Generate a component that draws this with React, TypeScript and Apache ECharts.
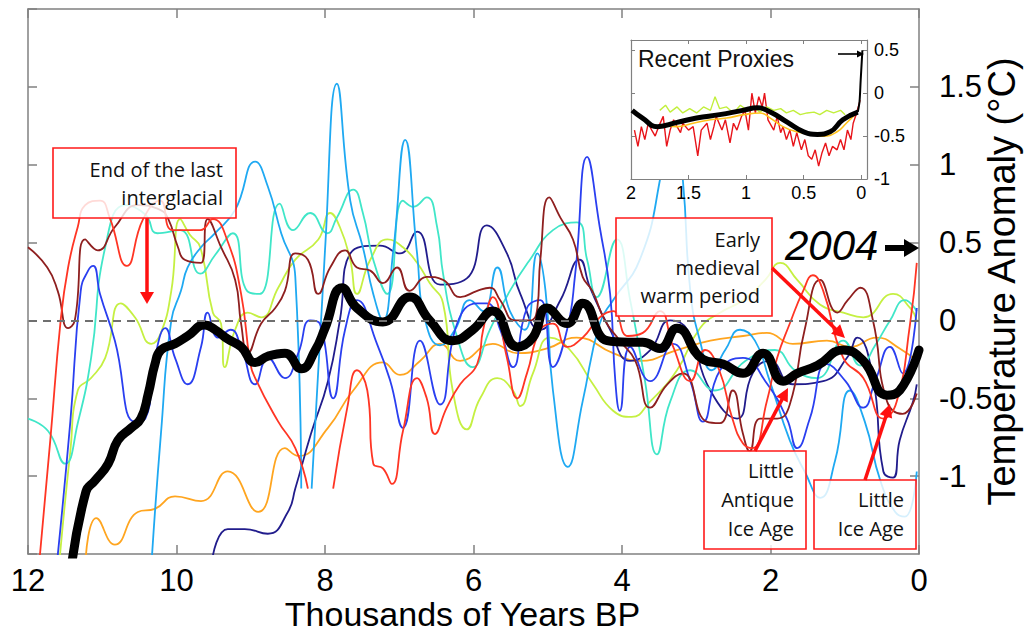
import React, { useEffect, useRef } from 'react';
import * as echarts from 'echarts';

type P = [number, number | string];

// ---------- main panel data (x = thousands of years BP, y = °C) ----------
const globalMean: P[] = [
  [11.42, -1.6], [11.22, -1.1], [11.1, -1.03], [10.92, -0.92], [10.79, -0.77], [10.61, -0.69], [10.48, -0.63],
  [10.38, -0.47], [10.29, -0.28], [10.21, -0.19], [10.02, -0.15], [9.85, -0.1], [9.62, -0.03], [9.48, -0.06],
  [9.31, -0.12], [9.13, -0.17], [8.94, -0.27], [8.77, -0.23], [8.54, -0.21], [8.32, -0.31], [8.13, -0.19],
  [8.0, -0.05], [7.77, 0.21], [7.57, 0.08], [7.22, -0.01], [6.86, 0.15], [6.59, 0.0], [6.28, -0.13], [6.01, -0.06],
  [5.74, 0.06], [5.41, -0.17], [5.2, -0.11], [5.01, 0.08], [4.74, -0.02], [4.53, 0.11], [4.2, -0.13], [3.92, -0.14],
  [3.72, -0.14], [3.49, -0.18], [3.26, -0.05], [2.91, -0.25], [2.64, -0.28], [2.37, -0.34], [2.1, -0.21],
  [1.83, -0.39], [1.64, -0.34], [1.37, -0.29], [1.02, -0.19], [0.75, -0.26], [0.43, -0.48], [0.26, -0.45], [0.0, -0.19],
];

const proxyRed: P[] = [
  [11.84, -1.51], [11.7, -0.77], [11.56, 0], [11.46, 0.34], [11.33, 0.6], [11.23, 0.74], [11.03, 0.77], [10.9, 0.66],
  [10.67, 0.35], [10.45, 0.65], [10.22, 0.77], [10.05, 0.58], [9.68, 0.58], [9.51, 0.65], [9.32, 0.52], [9.13, 0.17],
  [9.01, -0.26], [8.94, -0.37], [8.63, -0.65], [8.4, -0.82], [8.23, -1.08], [8.1, '-'],
  [7.89, -1.08], [7.7, -0.56], [7.57, -0.32], [7.43, -0.45], [7.35, -0.92], [7.22, -0.95], [7.1, -1.05], [6.95, -0.71],
  [6.76, -0.37], [6.63, -0.5], [6.52, -0.73], [6.36, -0.56], [6.18, -0.41], [5.95, -0.28], [5.87, -0.06], [5.74, 0.15],
  [5.55, -0.24], [5.41, -0.5], [5.28, -0.34], [5.1, -0.06], [4.93, -0.02], [4.74, -0.17], [4.53, -0.11], [4.3, 0.02],
  [4.12, 0.06], [3.92, -0.1], [3.72, -0.08], [3.49, 0.06], [3.31, -0.17], [3.08, -0.39], [2.88, -0.19], [2.69, -0.32],
  [2.52, -0.62], [2.37, -0.79], [2.24, -0.82], [2.05, -0.52], [1.91, -0.24], [1.74, -0.02], [1.56, 0.19], [1.43, 0.29],
  [1.29, 0.19], [1.02, -0.24], [0.75, -0.37], [0.48, -0.63], [0.3, -0.52], [0.12, -0.02], [0.03, 0.37],
];

const proxyBrown: P[] = [
  [12.0, 0.47], [11.74, 0.34], [11.6, 0.19], [11.46, -0.05], [11.37, 0.0], [11.23, 0.52], [11.06, 0.45], [10.83, 0.6],
  [10.52, 0.74], [10.22, 0.71], [10.11, 0.65], [9.98, 0.47], [9.89, 0.39], [9.67, 0.37], [9.58, 0.65], [9.4, 0.47],
  [9.21, 0.26], [9.13, -0.02], [9.04, -0.21], [8.86, -0.02], [8.67, 0.08], [8.54, 0.19], [8.4, 0.43], [8.23, 0.39],
  [8.09, 0.17], [7.93, 0.34], [7.73, 0.45], [7.57, 0.34], [7.39, 0.32], [7.22, 0.24], [7.03, 0.34], [6.86, 0.19],
  [6.63, 0.28], [6.41, 0.26], [6.18, 0.15], [5.95, 0.19], [5.78, 0.21], [5.64, 0.13], [5.44, 0.0], [5.24, 0.0],
  [5.14, 0.08], [5.1, 0.39], [4.98, 0.79], [4.83, 0.66], [4.66, 0.52], [4.53, 0.28], [4.4, 0.19], [4.23, 0.0],
  [4.03, -0.13], [3.82, -0.26], [3.62, -0.56], [3.39, -0.41], [3.18, -0.34], [2.86, -0.65], [2.68, -0.66], [2.51, -0.45],
  [2.37, -0.73], [2.28, -0.84], [2.14, -0.63], [1.91, -0.63], [1.74, -0.54], [1.54, -0.06], [1.33, 0.26], [1.1, 0.05],
  [0.96, 0.13], [0.79, 0.21], [0.62, 0.0], [0.43, -0.52], [0.22, -0.6], [0.03, -0.47],
];

const proxyBlue: P[] = [
  [11.6, -1.51], [11.43, -0.65], [11.29, 0.19], [11.19, 0.32], [11.12, 0.35], [11.03, 0.17], [10.83, -0.13],
  [10.56, -0.65], [10.42, -0.63], [10.29, -0.24], [10.15, -0.05], [10.02, -0.24], [9.85, -0.41], [9.67, -0.17],
  [9.58, 0.05], [9.44, -0.11], [9.27, -0.06], [9.13, -0.17], [8.94, -0.41], [8.77, -0.24], [8.54, -0.37], [8.36, -0.21],
  [8.2, 0.0], [8.07, -0.02], [7.89, -0.5], [7.73, -0.06], [7.57, 0.13], [7.3, -0.15], [7.12, -0.39], [6.95, -0.69],
  [6.72, -0.13], [6.45, -0.54], [6.22, -0.02], [5.95, 0.11], [5.82, 0.11], [5.64, -0.06], [5.47, -0.3], [5.28, 0.08],
  [5.1, 0.13], [4.93, -0.3], [4.74, -0.06], [4.63, 0.3], [4.47, 1.05], [4.3, 0.6], [4.16, 0.17], [4.09, -0.39],
  [4.03, -0.58], [3.89, -0.17], [3.62, -0.39], [3.31, -0.15], [3.08, -0.39], [2.91, -0.65], [2.68, -0.32],
  [2.37, -0.24], [2.07, -0.39], [1.78, -0.63], [1.64, -0.82], [1.47, -0.63], [1.24, -0.28], [0.99, -0.39],
  [0.75, -0.56], [0.59, -0.39], [0.39, -0.17], [0.22, -0.34], [0.03, 0.08],
];

const proxyNavy: P[] = [
  [9.51, -1.51], [9.31, -1.34], [9.08, -1.34], [8.77, -1.37], [8.5, -1.23], [8.4, -1.08], [8.19, -0.73], [7.96, -0.39],
  [7.8, 0.0], [7.66, 0.43], [7.26, 0.48], [6.99, 0.43], [6.76, 0.57], [6.45, 0.23], [6.09, 0.27], [5.82, 0.61],
  [5.55, 0.43], [5.37, 0.17], [5.1, -0.06], [4.83, 0.13], [4.57, 0.39], [4.43, 0.21], [4.16, -0.06], [3.89, -0.26],
  [3.62, -0.19], [3.35, 0.0], [3.12, -0.06], [2.81, -0.45], [2.45, -0.63], [2.24, -0.34], [2.01, -0.26], [1.7, -0.41],
  [1.29, -0.39], [0.97, -0.24], [0.83, -0.11], [0.62, -0.37], [0.48, -0.97], [0.35, -1.01], [0.26, -0.77],
  [0.08, -0.52], [0.03, -0.41],
];

const proxyCyan: P[] = [
  [12.0, -0.63], [11.73, -0.71], [11.5, -0.92], [11.33, -0.66], [11.15, -0.24], [10.96, 0.47], [10.69, 0.74],
  [10.42, 0.68], [10.26, 0.56], [9.95, 0.58], [9.68, 0.3], [9.48, 0.42], [9.24, 0.56], [9.05, 0.19], [8.88, 0.17],
  [8.61, 0.75], [8.43, 0.58], [8.2, 0.69], [7.97, 0.56], [7.84, 0.66], [7.62, 0.84], [7.49, 0.69], [7.35, 0.39],
  [7.16, 0.17], [6.95, 0.77], [6.81, 0.73], [6.63, 0.79], [6.49, 0.6], [6.41, 0.3], [6.25, -0.06], [6.01, -0.3],
  [5.78, -0.06], [5.51, 0.19], [5.24, 0.39], [4.93, 0.58], [4.61, 0.63], [4.47, 0.39], [4.34, 0.15], [4.07, 0.52],
  [3.89, 0.13], [3.69, -0.39], [3.53, -0.86], [3.35, -0.52], [3.08, -0.32], [2.75, -0.45], [2.34, -0.26],
  [1.94, -0.19], [1.67, -0.32], [1.37, -0.37], [1.02, -0.13], [0.79, -0.29], [0.59, -0.16], [0.39, 0.0],
  [0.19, 0.13], [0.03, 0.06],
];

const proxyYellowGreen: P[] = [
  [11.57, -1.51], [11.43, -0.84], [11.33, -0.45], [11.15, -0.37], [10.96, -0.24], [10.75, 0.11], [10.56, 0.02],
  [10.34, -0.15], [10.21, -0.08], [10.07, 0.19], [9.95, 0.65], [9.82, 0.55], [9.68, 0.47], [9.51, 0.05], [9.4, -0.02],
  [9.35, -0.3], [9.21, -0.06], [9.04, 0.05], [8.86, 0.02], [8.63, 0.21], [8.4, 0.39], [8.09, 0.52], [7.93, 0.69],
  [7.8, 0.6], [7.66, 0.39], [7.57, 0.17], [7.39, 0.39], [7.16, 0.52], [6.95, 0.47], [6.76, 0.37], [6.59, 0.24],
  [6.41, 0.11], [6.28, -0.45], [6.09, -0.7], [5.91, -0.5], [5.68, -0.37], [5.47, -0.45], [5.37, -0.55], [5.2, -0.34],
  [4.97, -0.11], [4.7, -0.19], [4.39, -0.41], [4.12, -0.58], [3.87, -0.62], [3.62, -0.52], [3.26, -0.32],
  [2.95, -0.05], [2.68, 0.05], [2.37, 0.13], [2.07, 0.26], [1.87, 0.37], [1.64, 0.26], [1.33, 0.1], [1.02, 0.05],
  [0.75, 0.02], [0.35, 0.17], [0.12, 0.08], [0.03, 0.0],
];

const proxyLightBlue: P[] = [
  [10.33, -1.51], [10.21, -0.73], [10.07, 0.0], [9.94, 0.19], [9.85, 0.34], [9.67, 0.47], [9.48, 0.56], [9.21, 0.71],
  [8.94, 1.02], [8.77, 0.86], [8.59, 0.56], [8.4, 0.28], [8.32, -1.08], [8.25, '-'],
  [8.18, -1.08], [8.0, 0.45], [7.84, 1.52], [7.66, 0.77], [7.49, 0.47], [7.35, 0.17], [7.22, 0.0], [7.08, 0.45],
  [6.92, 1.16], [6.76, 0.43], [6.65, 0.0], [6.45, -0.16], [6.25, -0.06], [6.05, 0.13], [5.87, 0.06], [5.68, 0.34],
  [5.51, 0.06], [5.31, -0.06], [5.14, 0.43], [5.03, 0.19], [4.93, -0.45], [4.73, -0.94], [4.53, -0.52], [4.3, -0.02],
  [4.12, 0.13], [3.76, 0.39], [3.49, 0.9], [3.33, 1.48], [3.18, 0.9], [3.08, 0.19], [2.95, -0.13], [2.79, -0.32],
  [2.61, -0.19], [2.41, -0.06], [2.21, -0.13], [2.01, -0.39], [1.74, -0.77], [1.54, -0.97], [1.33, -1.14],
  [1.13, -0.9], [0.93, -0.45], [0.73, -0.65], [0.52, -1.03], [0.32, -1.23], [0.19, -1.26], [0.03, -0.97],
];

const proxyOrange: P[] = [
  [11.22, -1.51], [11.08, -1.27], [10.83, -1.44], [10.52, -1.23], [10.29, -1.21], [10.02, -1.13], [9.67, -1.16],
  [9.31, -0.97], [8.9, -1.23], [8.54, -0.82], [8.36, -0.87], [7.96, -0.69], [7.62, -0.45], [7.22, -0.27],
  [6.99, -0.35], [6.72, -0.26], [6.45, -0.15], [6.18, -0.26], [5.74, -0.15], [5.41, -0.21], [5.01, -0.18],
  [4.61, -0.11], [4.12, -0.21], [3.76, -0.26], [3.26, -0.19], [2.81, -0.13], [2.37, -0.1], [2.05, -0.08],
  [1.7, -0.15], [1.24, -0.13], [0.93, -0.17], [0.57, -0.11], [0.26, -0.18], [0.03, -0.26],
];

// ---------- inset "Recent Proxies" data (x = thousands of years BP) ----------
const recentRed: P[] = [
  [1.97, -0.43], [1.94, -0.62], [1.91, -0.39], [1.88, -0.54], [1.85, -0.35], [1.82, -0.43], [1.79, -0.5], [1.76, -0.39],
  [1.72, -0.27], [1.69, -0.62], [1.66, -0.43], [1.63, -0.31], [1.6, -0.39], [1.57, -0.46], [1.55, -0.35], [1.5, -0.43],
  [1.46, -0.39], [1.42, -0.73], [1.39, -0.43], [1.34, -0.35], [1.31, -0.54], [1.28, -0.39], [1.26, -0.27],
  [1.21, -0.43], [1.18, -0.31], [1.14, -0.58], [1.11, -0.35], [1.08, -0.43], [1.04, -0.27], [1.01, -0.2],
  [0.98, -0.43], [0.95, 0.0], [0.92, -0.23], [0.89, -0.04], [0.86, -0.16], [0.84, 0.0], [0.81, -0.31], [0.76, -0.43],
  [0.73, -0.27], [0.7, -0.46], [0.68, -0.39], [0.65, -0.54], [0.62, -0.43], [0.59, -0.62], [0.56, -0.46],
  [0.52, -0.66], [0.49, -0.54], [0.46, -0.73], [0.43, -0.77], [0.4, -0.66], [0.37, -0.85], [0.34, -0.69],
  [0.31, -0.58], [0.28, -0.73], [0.25, -0.62], [0.21, -0.66], [0.18, -0.54], [0.15, -0.66], [0.12, -0.43],
  [0.09, -0.54], [0.07, -0.35], [0.04, -0.23], [0.01, -0.08],
];

const recentYellowGreen: P[] = [
  [1.75, -0.2], [1.7, -0.14], [1.66, -0.22], [1.6, -0.16], [1.55, -0.23], [1.49, -0.18], [1.43, -0.23], [1.37, -0.16],
  [1.31, -0.2], [1.27, -0.04], [1.23, -0.18], [1.17, -0.16], [1.11, -0.23], [1.05, -0.14], [0.99, -0.2], [0.94, -0.16],
  [0.88, -0.22], [0.82, -0.16], [0.76, -0.2], [0.7, -0.18], [0.65, -0.23], [0.59, -0.2], [0.53, -0.25], [0.47, -0.23],
  [0.41, -0.22], [0.36, -0.25], [0.3, -0.2], [0.24, -0.23], [0.18, -0.2], [0.14, -0.25],
];

const recentOrange: P[] = [
  [1.75, -0.37], [1.6, -0.39], [1.46, -0.35], [1.31, -0.31], [1.17, -0.29], [1.02, -0.25], [0.88, -0.23],
  [0.79, -0.29], [0.68, -0.39], [0.56, -0.45], [0.44, -0.48], [0.33, -0.5], [0.21, -0.45], [0.13, -0.35], [0.04, -0.23],
];

const recentMean: P[] = [
  [1.99, -0.2], [1.9, -0.29], [1.77, -0.39], [1.6, -0.34], [1.43, -0.29], [1.23, -0.25], [1.03, -0.2], [0.9, -0.17],
  [0.79, -0.22], [0.64, -0.34], [0.5, -0.45], [0.38, -0.48], [0.27, -0.45], [0.16, -0.31], [0.03, -0.22],
];

const instrumental: P[] = [[0.03, -0.22], [0.015, -0.1], [0.005, 0.15], [-0.01, 0.5]];

// ---------- tick values ----------
const insetXTicks = [0, 0.5, 1, 1.5, 2];
const insetYLabels = [-1, -0.5, 0, 0.5];
const insetYTicks = [-0.5, 0, 0.5];

// ---------- styles ----------
const SANS = '"Liberation Sans", Arial, sans-serif';
const NOTE = '"Open Sans", sans-serif';
const FRAME = '#808080';

function arrow(x1: number, y1: number, x2: number, y2: number, color: string, width: number, headLen: number, headHalf: number) {
  const dx = x2 - x1, dy = y2 - y1;
  const len = Math.hypot(dx, dy);
  const ux = dx / len, uy = dy / len;
  const bx = x2 - ux * headLen, by = y2 - uy * headLen;
  const px = -uy, py = ux;
  return [
    { type: 'line', z: 100, shape: { x1, y1, x2: bx + ux, y2: by + uy }, style: { stroke: color, lineWidth: width } },
    {
      type: 'polygon', z: 100,
      shape: { points: [[x2, y2], [bx + px * headHalf, by + py * headHalf], [bx - px * headHalf, by - py * headHalf]] },
      style: { fill: color },
    },
  ];
}

function note(x: number, y: number, text: string, opts: any = {}) {
  const align = opts.align || 'right';
  return {
    type: 'text', z: 101, x, y,
    style: {
      text, fill: opts.fill || '#111',
      fontSize: opts.fontSize || 20, fontFamily: opts.fontFamily || NOTE, fontStyle: opts.fontStyle || 'normal',
      align, textAlign: align, verticalAlign: 'middle', textVerticalAlign: 'middle',
    },
  };
}

function box(x: number, y: number, w: number, h: number) {
  return {
    type: 'rect', z: 99, shape: { x, y, width: w, height: h },
    style: { fill: 'rgba(255,255,255,0.82)', stroke: '#ff1a1a', lineWidth: 1.6 },
  };
}

function proxy(data: P[], color: string) {
  return {
    type: 'line', xAxisIndex: 0, yAxisIndex: 0, data, smooth: 0.5, symbol: 'none', showSymbol: false,
    connectNulls: false, lineStyle: { color, width: 1.8 }, z: 2, silent: true,
  };
}

function frameAxis(extra: any) {
  return {
    type: 'value',
    splitLine: { show: false },
    axisLine: { show: true, onZero: false, lineStyle: { color: FRAME, width: 1.5 } },
    ...extra,
  };
}

export default function App() {
  const ref = useRef<HTMLDivElement>(null);

  useEffect(() => {
    if (!ref.current) return;
    const chart = echarts.init(ref.current, undefined, { renderer: 'svg' });

    const option: any = {
      animation: false,
      backgroundColor: '#ffffff',
      grid: [
        { left: 28, top: 9, width: 891, height: 545, show: false, containLabel: false, outerBoundsMode: 'none' },
        {
          left: 631, top: 40, width: 236, height: 139, show: true, backgroundColor: '#ffffff', borderWidth: 0, z: 5,
          containLabel: false, outerBoundsMode: 'none',
        },
      ],
      xAxis: [
        frameAxis({
          gridIndex: 0, position: 'bottom', min: 0, max: 12, interval: 2, inverse: true,
          axisTick: { show: true, inside: true, length: 9, lineStyle: { color: FRAME, width: 1.5 } },
          axisLabel: { show: true, color: '#000', fontSize: 31, fontFamily: SANS, margin: 11 },
          name: 'Thousands of Years BP', nameLocation: 'middle', nameGap: 43, nameMoveOverlap: false,
          nameTextStyle: { color: '#000', fontSize: 34, lineHeight: 34, fontFamily: SANS, padding: [0, 22, 0, 0] },
        }),
        frameAxis({
          gridIndex: 0, position: 'top', min: 0, max: 12, interval: 2, inverse: true,
          axisTick: { show: true, inside: true, length: 9, lineStyle: { color: FRAME, width: 1.5 } },
          axisLabel: { show: false },
        }),
        frameAxis({
          gridIndex: 1, position: 'bottom', min: -0.05, max: 2, inverse: true, z: 6,
          axisLine: { show: true, onZero: false, lineStyle: { color: FRAME, width: 1.2 } },
          axisTick: { show: true, inside: true, length: 4, customValues: insetXTicks, lineStyle: { color: FRAME } },
          axisLabel: { show: true, customValues: insetXTicks, color: '#000', fontSize: 18, fontFamily: SANS, margin: 5 },
        }),
        frameAxis({
          gridIndex: 1, position: 'top', min: -0.05, max: 2, inverse: true, z: 6,
          axisLine: { show: true, onZero: false, lineStyle: { color: FRAME, width: 1.2 } },
          axisTick: { show: true, inside: true, length: 4, customValues: insetXTicks, lineStyle: { color: FRAME } },
          axisLabel: { show: false },
        }),
      ],
      yAxis: [
        frameAxis({
          gridIndex: 0, position: 'right', min: -1.5, max: 2, interval: 0.5,
          axisTick: { show: true, inside: true, length: 9, lineStyle: { color: FRAME, width: 1.5 } },
          axisLabel: { show: true, color: '#000', fontSize: 31, fontFamily: SANS, margin: 20, showMinLabel: false, showMaxLabel: false },
          name: 'Temperature Anomaly (°C)', nameLocation: 'middle', nameGap: 64, nameRotate: 90, nameMoveOverlap: false,
          nameTextStyle: { color: '#000', fontSize: 38, fontFamily: SANS },
        }),
        frameAxis({
          gridIndex: 0, position: 'left', min: -1.5, max: 2, interval: 0.5,
          axisTick: { show: true, inside: true, length: 9, lineStyle: { color: FRAME, width: 1.5 } },
          axisLabel: { show: false },
        }),
        frameAxis({
          gridIndex: 1, position: 'right', min: -1, max: 0.62, z: 6,
          axisLine: { show: true, onZero: false, lineStyle: { color: FRAME, width: 1.2 } },
          axisTick: { show: true, inside: true, length: 4, customValues: insetYTicks, lineStyle: { color: FRAME } },
          axisLabel: { show: true, customValues: insetYLabels, color: '#000', fontSize: 18, fontFamily: SANS, margin: 7 },
        }),
        frameAxis({
          gridIndex: 1, position: 'left', min: -1, max: 0.62, z: 6,
          axisLine: { show: true, onZero: false, lineStyle: { color: FRAME, width: 1.2 } },
          axisTick: { show: true, inside: true, length: 4, customValues: insetYTicks, lineStyle: { color: FRAME } },
          axisLabel: { show: false },
        }),
      ],
      series: [
        proxy(proxyOrange, '#ffa51f'),
        proxy(proxyNavy, '#211c8c'),
        proxy(proxyYellowGreen, '#c5f042'),
        proxy(proxyCyan, '#40e6c8'),
        proxy(proxyLightBlue, '#1fa9f2'),
        proxy(proxyBlue, '#2a3ff0'),
        proxy(proxyBrown, '#8e1f1f'),
        {
          ...proxy(proxyRed, '#ff3524'),
          markLine: {
            silent: true, symbol: 'none', label: { show: false },
            lineStyle: { color: '#6f6f6f', type: [8, 6], width: 2 },
            data: [{ yAxis: 0 }],
          },
        },
        {
          type: 'line', xAxisIndex: 0, yAxisIndex: 0, data: globalMean, smooth: 0.5, symbol: 'none',
          lineStyle: { color: '#000', width: 9, cap: 'round', join: 'round' }, z: 3, silent: true,
        },
        // inset
        { type: 'line', xAxisIndex: 2, yAxisIndex: 2, data: recentRed, symbol: 'none', lineStyle: { color: '#e8141a', width: 1.4 }, z: 7, silent: true },
        { type: 'line', xAxisIndex: 2, yAxisIndex: 2, data: recentYellowGreen, symbol: 'none', lineStyle: { color: '#c2ef3c', width: 1.4 }, z: 7, silent: true },
        { type: 'line', xAxisIndex: 2, yAxisIndex: 2, data: recentOrange, smooth: 0.5, symbol: 'none', lineStyle: { color: '#ffc21a', width: 1.6 }, z: 7, silent: true },
        { type: 'line', xAxisIndex: 2, yAxisIndex: 2, data: recentMean, smooth: 0.5, symbol: 'none', lineStyle: { color: '#000', width: 5 }, z: 8, silent: true },
        { type: 'line', xAxisIndex: 2, yAxisIndex: 2, data: instrumental, smooth: 0.3, symbol: 'none', lineStyle: { color: '#000', width: 2 }, z: 8, silent: true },
      ],
      graphic: {
        elements: [
          note(638, 59, 'Recent Proxies', { align: 'left', fontSize: 23, fontFamily: SANS, fill: '#111' }),
          ...arrow(838, 54, 864, 54, '#000', 1.6, 7, 3.5),

          box(53, 148, 183, 70),
          note(223, 169, 'End of the last'),
          note(223, 197, 'interglacial'),
          ...arrow(147, 218, 147, 304, '#ff1010', 3.5, 12, 7),

          box(616, 218, 156, 98),
          note(760, 239, 'Early'),
          note(760, 267, 'medieval'),
          note(760, 295, 'warm period'),
          ...arrow(772, 268, 845, 338, '#ff1010', 3.5, 13, 6.5),

          box(704, 451, 102, 98),
          note(794, 470, 'Little'),
          note(794, 499, 'Antique'),
          note(794, 528, 'Ice Age'),
          ...arrow(755, 451, 788, 388, '#ff1010', 3.5, 13, 6.5),

          box(814, 480, 102, 69),
          note(904, 499, 'Little'),
          note(904, 528, 'Ice Age'),
          ...arrow(865, 480, 890, 404, '#ff1010', 3.5, 13, 6.5),

          note(785, 245, '2004', { align: 'left', fontSize: 42, fontFamily: SANS, fontStyle: 'italic', fill: '#000' }),
          ...arrow(885, 248, 919, 248, '#000', 6, 15, 9),
        ],
      },
    };

    chart.setOption(option);
    return () => chart.dispose();
  }, []);

  return (
    <div
      ref={ref}
      style={{ position: 'fixed', left: 0, top: 0, width: 1024, height: 632, background: '#fff' }}
    />
  );
}
